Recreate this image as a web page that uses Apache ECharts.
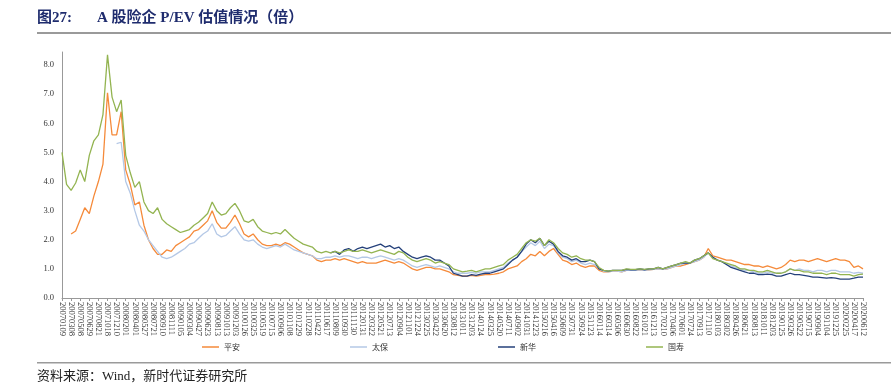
<!DOCTYPE html>
<html><head><meta charset="utf-8">
<script src="https://cdn.jsdelivr.net/npm/echarts@6/dist/echarts.min.js"></script>
<style>html,body{margin:0;padding:0;background:#fff}#c{width:891px;height:385px}</style>
</head><body><div id="c"></div>
<script>
// tick labels (one per 2 data steps)
const dateLabels = ["20070109","20070308","20070508","20070629","20070821","20071018","20071210","20080201","20080401","20080527","20080721","20080910","20081111","20090105","20090304","20090427","20090623","20090813","20091013","20091203","20100126","20100325","20100519","20100715","20100906","20101108","20101229","20110228","20110422","20110617","20110809","20110930","20111130","20120131","20120322","20120521","20120713","20120904","20121101","20121224","20130225","20130422","20130620","20130812","20131011","20131203","20140124","20140325","20140520","20140711","20140902","20141031","20141223","20150216","20150416","20150609","20150731","20150924","20151123","20160114","20160314","20160506","20160630","20160822","20161021","20161213","20170210","20170406","20170601","20170724","20170913","20171110","20180103","20180302","20180426","20180621","20180813","20181011","20181203","20190125","20190326","20190522","20190715","20190904","20191104","20191225","20200225","20200417","20200612"];
const seriesNames = ["平安","太保","新华","国寿"];
const yTicks = [0,1,2,3,4,5,6,7,8];

const pingan = [null,null,2.2,2.3,2.7,3.1,2.9,3.5,4.0,4.6,7.05,5.6,5.6,6.4,4.4,3.9,3.2,3.3,2.5,2.0,1.7,1.5,1.5,1.65,1.6,1.8,1.9,2.0,2.1,2.3,2.35,2.5,2.65,3.0,2.6,2.4,2.4,2.6,2.85,2.55,2.2,2.1,2.2,2.0,1.85,1.8,1.8,1.85,1.8,1.9,1.85,1.75,1.65,1.55,1.5,1.45,1.3,1.25,1.3,1.3,1.35,
1.3,1.35,1.3,1.25,1.2,1.25,1.2,1.2,
1.2,1.25,1.3,1.25,1.2,1.25,1.2,1.1,
1.0,0.95,1.0,1.05,1.05,1.0,1.0,0.95,
0.9,0.8,0.78,0.75,0.75,0.78,0.75,0.78,
0.8,0.8,0.82,0.85,0.9,1.0,1.05,1.1,
1.25,1.35,1.5,1.45,1.6,1.45,1.6,1.7,
1.5,1.3,1.25,1.15,1.2,1.1,1.05,1.1,
1.1,0.95,0.9,0.9,0.92,0.92,0.9,0.95,
0.95,0.95,0.97,0.95,0.97,0.98,1.0,0.98,
1.0,1.05,1.1,1.1,1.15,1.2,1.25,1.3,
1.4,1.7,1.45,1.4,1.35,1.3,1.3,1.25,
1.2,1.15,1.15,1.1,1.1,1.05,1.1,1.05,
1.0,1.05,1.15,1.3,1.25,1.3,1.3,1.25,
1.3,1.35,1.3,1.25,1.3,1.35,1.3,1.3,
1.25,1.05,1.1,1.0];

const taibao = [null,null,null,null,null,null,null,null,null,null,null,null,5.3,5.35,4.0,3.6,3.0,2.5,2.3,2.0,1.8,1.6,1.4,1.35,1.4,1.5,1.6,1.7,1.85,1.9,2.05,2.2,2.3,2.55,2.2,2.1,2.15,2.3,2.45,2.2,2.0,1.95,2.0,1.85,1.75,1.7,1.75,1.8,1.75,1.85,1.75,1.65,1.6,1.55,1.5,1.45,1.35,1.35,1.4,1.4,1.45,
1.4,1.45,1.45,1.4,1.35,1.4,1.4,1.35,
1.4,1.45,1.4,1.35,1.3,1.35,1.3,1.2,
1.1,1.05,1.1,1.15,1.1,1.05,1.1,1.05,
1.0,0.9,0.85,0.85,0.85,0.88,0.85,0.9,
0.9,0.9,0.95,1.0,1.05,1.2,1.3,1.4,
1.6,1.75,1.9,1.8,1.95,1.7,1.85,1.8,
1.55,1.4,1.35,1.25,1.3,1.2,1.15,1.2,
1.15,1.0,0.92,0.9,0.92,0.92,0.9,0.95,
0.95,0.95,0.97,0.95,0.97,0.98,1.0,0.98,
1.0,1.05,1.1,1.15,1.2,1.2,1.25,1.3,
1.4,1.55,1.4,1.3,1.25,1.15,1.1,1.05,
1.0,0.95,0.95,0.9,0.85,0.85,0.9,0.85,
0.85,0.85,0.9,1.0,0.95,1.0,0.95,0.95,
0.9,0.95,0.95,0.9,0.95,0.95,0.9,0.9,
0.9,0.85,0.88,0.85];

const xinhua = [];
for (let i = 0; i < 59; i++) xinhua.push(null);
xinhua.push(1.55,1.6,
1.5,1.65,1.7,1.6,1.7,1.75,1.7,1.75,
1.8,1.85,1.75,1.8,1.7,1.75,1.6,1.5,
1.4,1.35,1.4,1.45,1.4,1.3,1.3,1.2,
1.1,0.85,0.8,0.75,0.75,0.8,0.78,0.82,
0.85,0.85,0.9,0.95,1.0,1.15,1.3,1.4,
1.6,1.85,2.0,1.9,2.05,1.8,1.95,1.85,
1.6,1.45,1.4,1.3,1.35,1.25,1.25,1.3,
1.25,1.0,0.95,0.92,0.95,0.95,0.95,0.98,
0.97,0.97,1.0,0.97,1.0,1.0,1.05,1.0,
1.05,1.1,1.15,1.2,1.2,1.2,1.3,1.35,
1.45,1.55,1.4,1.3,1.25,1.15,1.05,1.0,
0.95,0.9,0.85,0.85,0.8,0.8,0.82,0.8,
0.75,0.75,0.8,0.85,0.8,0.8,0.78,0.75,
0.72,0.72,0.7,0.68,0.7,0.68,0.65,0.65,
0.65,0.68,0.72,0.72);

const guoshou = [5.0,3.9,3.7,3.95,4.4,4.0,4.9,5.4,5.6,6.3,8.35,6.9,6.4,6.8,4.9,4.3,3.8,4.0,3.3,3.0,2.9,3.1,2.7,2.55,2.45,2.35,2.25,2.3,2.35,2.5,2.6,2.75,2.9,3.3,3.0,2.85,2.9,3.1,3.25,3.0,2.65,2.6,2.7,2.45,2.3,2.25,2.2,2.25,2.2,2.35,2.2,2.05,1.95,1.85,1.8,1.75,1.6,1.55,1.6,1.55,1.6,
1.55,1.6,1.65,1.6,1.6,1.65,1.6,1.55,
1.6,1.65,1.6,1.55,1.5,1.6,1.55,1.4,
1.3,1.25,1.3,1.35,1.3,1.2,1.25,1.2,
1.15,1.0,0.95,0.9,0.92,0.95,0.9,0.95,
1.0,1.0,1.05,1.1,1.15,1.3,1.4,1.5,
1.7,1.9,2.0,1.95,2.05,1.8,2.0,1.9,
1.7,1.55,1.5,1.4,1.45,1.35,1.3,1.3,
1.25,1.05,0.95,0.92,0.95,0.95,0.95,1.0,
0.98,0.98,1.0,0.98,1.0,1.0,1.05,1.0,
1.05,1.1,1.15,1.2,1.25,1.2,1.3,1.35,
1.45,1.55,1.35,1.3,1.25,1.2,1.15,1.1,
1.0,1.0,0.95,0.95,0.9,0.9,0.95,0.9,
0.85,0.85,0.9,1.0,0.95,0.95,0.9,0.9,
0.85,0.85,0.85,0.8,0.85,0.85,0.8,0.8,
0.8,0.75,0.8,0.82];

const colors = ["#F58A3A","#B4C8E6","#24407A","#93B451"];
const seriesData = [pingan, taibao, xinhua, guoshou];
const STEP = 2; // data steps per tick label

const chart = echarts.init(document.getElementById('c'), null, {renderer:'canvas'});
const serif = "'Liberation Serif','Times New Roman','Noto Sans CJK SC',serif";
chart.setOption({
  animation:false,
  backgroundColor:'#fff',
  grid:{left:62, right:28, top:52, bottom:87, containLabel:false},
  xAxis:{
    type:'value', min:0, max:(dateLabels.length-1)*STEP, interval:STEP,
    axisLine:{lineStyle:{color:'#999',width:1}},
    axisTick:{show:true, length:3, lineStyle:{color:'#999'}},
    splitLine:{show:false},
    axisLabel:{rotate:-90, fontSize:8.5, fontFamily:serif, color:'#333', margin:4,
      showMinLabel:true, showMaxLabel:true,
      formatter:v=>{const k=Math.round(v/STEP);return dateLabels[k]||'';}}
  },
  yAxis:{
    type:'value', min:0, max:8.45, interval:1,
    axisLine:{show:true, lineStyle:{color:'#999',width:1}},
    axisTick:{show:false},
    splitLine:{show:false},
    axisLabel:{fontSize:8.5, fontFamily:serif, color:'#333', margin:8,
      formatter:v=> yTicks.indexOf(Math.round(v*100)/100)>=0 ? v.toFixed(1) : ''}
  },
  legend:{
    left:197, top:338, itemWidth:17, itemHeight:1.5, icon:'rect', itemGap:110,
    textStyle:{fontSize:8, color:'#333', fontFamily:"'Noto Sans CJK SC',sans-serif"},
    data:seriesNames
  },
  series: seriesNames.map((n,i)=>({
    name:n, type:'line', showSymbol:false, symbol:'none',
    data: seriesData[i].map((v,j)=>[j, v]),
    lineStyle:{width:1.3, color:colors[i]}, itemStyle:{color:colors[i]},
    connectNulls:false
  })),
  graphic:[
    {type:'text', left:37, top:11, style:{text:'图27:', font:"bold 15px 'Liberation Serif','Noto Sans CJK SC',serif", fill:'#1F2C6E'}},
    {type:'text', left:97, top:11, style:{text:'A 股险企 P/EV 估值情况（倍）', font:"bold 15px 'Liberation Serif','Noto Sans CJK SC',serif", fill:'#1F2C6E'}},
    {type:'rect', shape:{x:37, y:32, width:854, height:2}, style:{fill:'#9a9a9a'}},
    {type:'rect', shape:{x:37, y:362, width:854, height:1.5}, style:{fill:'#9a9a9a'}},
    {type:'text', left:37, top:370, style:{text:'资料来源：Wind，新时代证券研究所', font:"13px 'Liberation Serif','Noto Sans CJK SC',serif", fill:'#222'}}
  ]
});
</script></body></html>
